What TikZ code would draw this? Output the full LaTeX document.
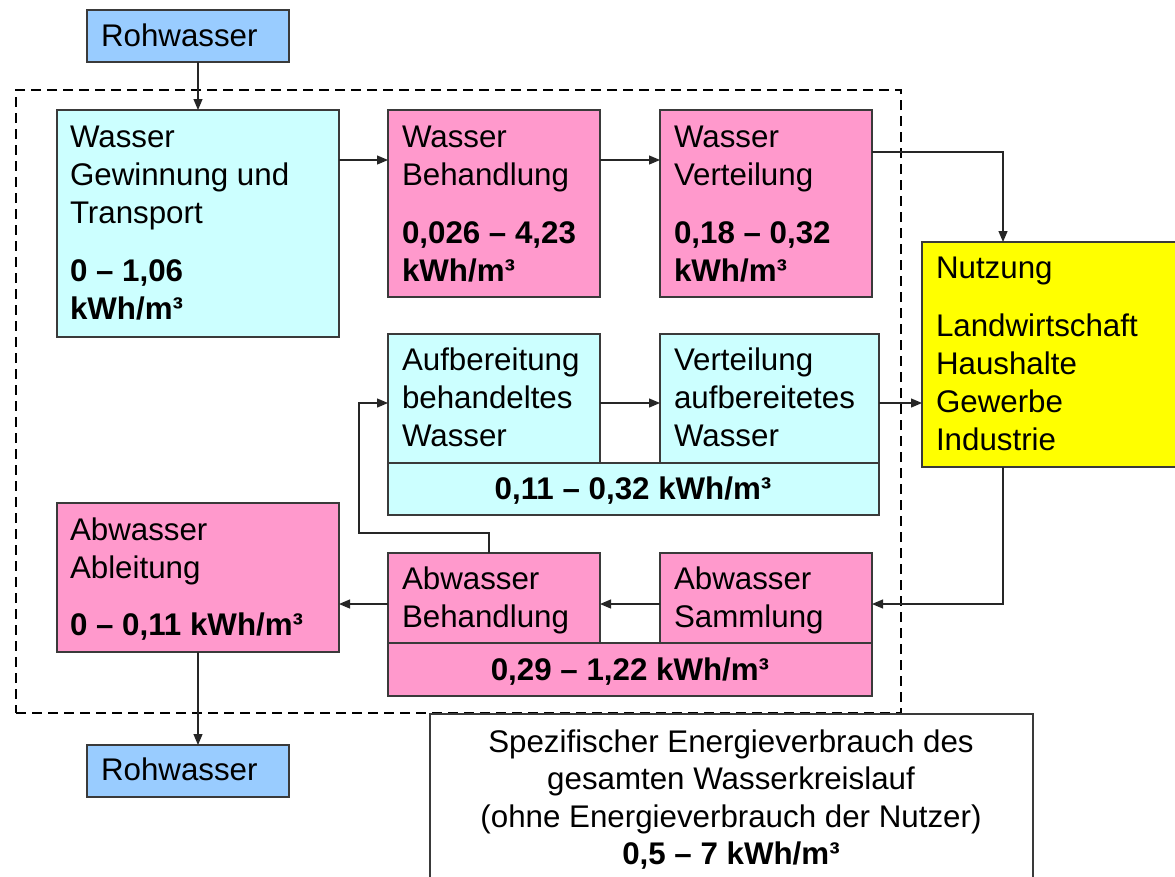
\documentclass[tikz,border=0pt]{standalone}
\usepackage{fontspec}
\setmainfont{Liberation Sans}
\usetikzlibrary{arrows.meta,calc}
\definecolor{rohblue}{HTML}{99CCFF}
\definecolor{cyanbox}{HTML}{CCFFFF}
\definecolor{pinkbox}{HTML}{FF99CC}
\definecolor{yellowbox}{HTML}{FFFF00}
\definecolor{boxline}{HTML}{3A3A3A}
\begin{document}
\begin{tikzpicture}[x=1pt,y=-1pt,
  box/.style={draw=boxline, line width=1.5pt, inner sep=0pt, outer sep=0pt, anchor=north west},
  frame/.style={draw=black, line width=2.8pt, dash pattern=on 10pt off 6pt, inner sep=0pt, outer sep=0pt, anchor=north west},
  txt/.style={inner sep=0pt, outer sep=0pt, anchor=north west, align=left, font=\fontsize{31.3}{38}\selectfont},
  ctxt/.style={inner sep=0pt, outer sep=0pt, anchor=base, align=center, font=\fontsize{31.3}{37.5}\selectfont},
  conn/.style={line width=1.2pt, draw=black!85, -{Triangle[length=11pt,width=9pt]}},
  plain/.style={line width=1.2pt, draw=black!85}
]
\useasboundingbox (0,0) rectangle (1175,876);

% dashed system frame
\node[frame, minimum width=885pt, minimum height=623pt] (frm) at (16,90) {};

% boxes
\node[box, fill=rohblue, minimum width=202pt, minimum height=52pt] (roh1) at (87,10) {};
\node[box, fill=cyanbox, minimum width=282pt, minimum height=227pt] (gew) at (57,110) {};
\node[box, fill=pinkbox, minimum width=212pt, minimum height=187pt] (beh) at (388,110) {};
\node[box, fill=pinkbox, minimum width=212pt, minimum height=187pt] (vert) at (660,110) {};
\node[box, fill=yellowbox, minimum width=262pt, minimum height=225pt] (nutz) at (922,242) {};
\node[box, fill=cyanbox, minimum width=491pt, minimum height=52pt] (bar1) at (388,463) {};
\node[box, fill=cyanbox, minimum width=212pt, minimum height=129pt] (aufb) at (388,334) {};
\node[box, fill=cyanbox, minimum width=219pt, minimum height=129pt] (vaufb) at (660,334) {};
\node[box, fill=pinkbox, minimum width=484pt, minimum height=53pt] (bar2) at (388,643) {};
\node[box, fill=pinkbox, minimum width=212pt, minimum height=90pt] (abeh) at (388,553) {};
\node[box, fill=pinkbox, minimum width=212pt, minimum height=90pt] (samm) at (660,553) {};
\node[box, fill=pinkbox, minimum width=282pt, minimum height=149pt] (ableit) at (57,503) {};
\node[box, fill=rohblue, minimum width=202pt, minimum height=52pt] (roh2) at (87,745) {};
\node[box, fill=white, minimum width=603pt, minimum height=175pt] (sum) at (430,714) {};

% texts
\node[txt] (troh1) at (101,19.4) {\strut Rohwasser};
\node[txt] (tgew) at (70,121.1) {\strut Wasser\\Gewinnung und\\Transport\\[19.7pt]\textbf{0 – 1,06}\\\textbf{kWh/m³}};
\node[txt] (tbeh) at (402,121.1) {\strut Wasser\\Behandlung\\[19.7pt]\textbf{0,026 – 4,23}\\\textbf{kWh/m³}};
\node[txt] (tvert) at (674,121.1) {\strut Wasser\\Verteilung\\[19.7pt]\textbf{0,18 – 0,32}\\\textbf{kWh/m³}};
\node[txt] (tnutz) at (936,251.4) {\strut Nutzung\\[20pt]Landwirtschaft\\Haushalte\\Gewerbe\\Industrie};
\node[txt] (taufb) at (402,343.4) {\strut Aufbereitung\\behandeltes\\Wasser};
\node[txt] (tvaufb) at (674,343.4) {\strut Verteilung\\aufbereitetes\\Wasser};
\node[ctxt] (tbar1) at (633,499) {\textbf{0,11 – 0,32 kWh/m³}};
\node[txt] (tabeh) at (402,562.4) {\strut Abwasser\\Behandlung};
\node[txt] (tsamm) at (674,562.4) {\strut Abwasser\\Sammlung};
\node[ctxt] (tbar2) at (630,680) {\textbf{0,29 – 1,22 kWh/m³}};
\node[txt] (tableit) at (70,513.4) {\strut Abwasser\\Ableitung\\[19pt]\textbf{0 – 0,11 kWh/m³}};
\node[txt] (troh2) at (101,753.4) {\strut Rohwasser};
\node[ctxt, anchor=north] (tsum) at (731,726) {\strut Spezifischer Energieverbrauch des\\gesamten Wasserkreislauf\\(ohne Energieverbrauch der Nutzer)\\\textbf{0,5 – 7 kWh/m³}};

% connectors
\draw[conn] (gew.north |- roh1.south) -- (gew.north);
\draw[conn] ([yshift=-50pt]gew.north east) -- ([yshift=-50pt]beh.north west);
\draw[conn] ([yshift=-50pt]beh.north east) -- ([yshift=-50pt]vert.north west);
\coordinate (nutzin) at ([xshift=81pt]nutz.north west);
\coordinate (nutzout) at ([xshift=81pt]nutz.south west);
\draw[conn] ([yshift=-42pt]vert.north east) -| (nutzin);
\draw[conn] ([yshift=-69pt]aufb.north east) -- ([yshift=-69pt]vaufb.north west);
\draw[conn] ([yshift=-69pt]vaufb.north east) -- ([yshift=-69pt]vaufb.north east -| nutz.west);
\draw[conn] (nutzout) |- ([yshift=-51pt]samm.north east);
\draw[conn] ([yshift=-51pt]samm.north west) -- ([yshift=-51pt]abeh.north east);
\draw[conn] ([yshift=-51pt]abeh.north west) -- ([yshift=-51pt]abeh.north west -| ableit.east);
\coordinate (fb) at (359,533);
\draw[conn] ([xshift=101pt]abeh.north west) |- (fb) |- ([yshift=-69pt]aufb.north west);
\draw[conn] (ableit.south) -- (ableit.south |- roh2.north);
\end{tikzpicture}
\end{document}
